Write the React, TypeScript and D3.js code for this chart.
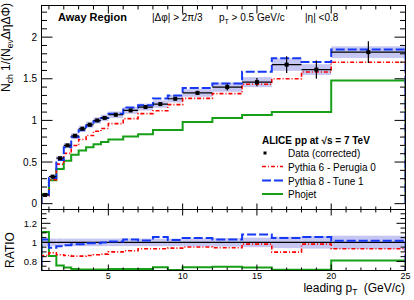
import React from "react";
import * as d3 from "d3";

// bins in leading pT (GeV/c)
const binEdges = [0.5, 1, 1.5, 2, 2.5, 3, 3.5, 4, 4.5, 5, 6, 7, 8, 9, 10, 12, 14, 16, 18, 20, 25];

// data (corrected)
const dataValues = [0.105, 0.325, 0.546, 0.7, 0.815, 0.9, 0.948, 1.0, 1.03, 1.068, 1.12, 1.16, 1.196, 1.26, 1.33, 1.4, 1.46, 1.67, 1.61, 1.82];
const dataStat = [0.004, 0.005, 0.006, 0.007, 0.008, 0.008, 0.009, 0.01, 0.01, 0.012, 0.013, 0.015, 0.017, 0.02, 0.025, 0.04, 0.05, 0.1, 0.11, 0.13];
const dataSys = [0.006, 0.015, 0.025, 0.03, 0.033, 0.035, 0.036, 0.037, 0.038, 0.039, 0.04, 0.042, 0.044, 0.045, 0.046, 0.055, 0.06, 0.075, 0.065, 0.07];

// models
const pythia6 = [0.091, 0.289, 0.475, 0.604, 0.698, 0.77, 0.818, 0.87, 0.903, 0.961, 1.021, 1.082, 1.116, 1.19, 1.265, 1.322, 1.434, 1.5, 1.581, 1.698];
const pythia8 = [0.108, 0.307, 0.524, 0.679, 0.799, 0.882, 0.939, 0.99, 1.03, 1.079, 1.154, 1.183, 1.263, 1.3, 1.39, 1.442, 1.583, 1.745, 1.7, 1.853];
const phojet = [0.117, 0.28, 0.415, 0.516, 0.587, 0.64, 0.679, 0.715, 0.74, 0.77, 0.806, 0.835, 0.885, 0.885, 0.98, 1.03, 1.065, 1.1, 1.1, 1.48];

// ratio panel (model / data)
const ratio6 = [0.863, 0.89, 0.87, 0.863, 0.856, 0.856, 0.863, 0.87, 0.877, 0.9, 0.912, 0.933, 0.933, 0.94, 0.951, 0.944, 0.982, 0.898, 0.982, 0.933];
const ratio8 = [1.03, 0.944, 0.96, 0.97, 0.98, 0.98, 0.99, 0.99, 1.0, 1.01, 1.03, 1.02, 1.056, 1.025, 1.045, 1.03, 1.084, 1.045, 1.056, 1.018];
const ratioPhojet = [1.11, 0.856, 0.758, 0.737, 0.72, 0.716, 0.716, 0.716, 0.716, 0.72, 0.72, 0.72, 0.74, 0.71, 0.74, 0.744, 0.737, 0.712, 0.712, 0.81];
const ratioBand = [0.04, 0.04, 0.04, 0.04, 0.04, 0.04, 0.04, 0.04, 0.04, 0.04, 0.04, 0.04, 0.04, 0.04, 0.042, 0.045, 0.05, 0.06, 0.065, 0.07];

const yMajor = [0, 0.5, 1, 1.5, 2];
const yLabels = ["0", "0.5", "1", "1.5", "2"];
const rMajor = [0.8, 1, 1.2];
const rLabels = ["0.8", "1", "1.2"];
const xLabels = [5, 10, 15, 20, 25];

const FONT = "Liberation Sans, Arial, Helvetica, sans-serif";
const RED = "#ff0000";
const BLUE = "#1438f5";
const GREEN = "#17a017";
const BAND = "#c6c6f2";

const left = 41.5;
const right = 405.5;
const topY = 5.5;
const midY = 209.5;
const botY = 270.5;

const x = d3.scaleLinear().domain([0.5, 25]).range([left, right]);
const y = d3.scaleLinear().domain([-0.07, 2.38]).range([midY, topY]);
const r = d3.scaleLinear().domain([0.705, 1.345]).range([botY, midY]);

function stepPath(vals: number[], ys: d3.ScaleLinear<number, number>, base: number) {
  const pts: [number, number][] = [[x(binEdges[0]), ys(base)]];
  vals.forEach((v, i) => {
    pts.push([x(binEdges[i]), ys(v)]);
    pts.push([x(binEdges[i + 1]), ys(v)]);
  });
  pts.push([x(binEdges[binEdges.length - 1]), ys(base)]);
  return d3.line()(pts) || "";
}

function Ticks() {
  const out: JSX.Element[] = [];
  // y ticks top panel
  d3.range(0, 2.35, 0.1).forEach((v, i) => {
    const major = Math.abs(v * 2 - Math.round(v * 2)) < 1e-6;
    const len = major ? 11 : 5.5;
    const yy = y(v);
    out.push(<line key={"yl" + i} x1={left} x2={left + len} y1={yy} y2={yy} />);
    out.push(<line key={"yr" + i} x1={right} x2={right - len} y1={yy} y2={yy} />);
  });
  // y ticks ratio panel
  d3.range(0.75, 1.33, 0.05).forEach((v, i) => {
    const major = rMajor.some((m) => Math.abs(m - v) < 1e-6);
    const len = major ? 9 : 5;
    const yy = r(v);
    out.push(<line key={"rl" + i} x1={left} x2={left + len} y1={yy} y2={yy} />);
    out.push(<line key={"rr" + i} x1={right} x2={right - len} y1={yy} y2={yy} />);
  });
  // x ticks
  d3.range(1, 25, 1).forEach((v) => {
    const major = v % 5 === 0;
    const xx = x(v);
    out.push(<line key={"xt" + v} x1={xx} x2={xx} y1={topY} y2={topY + (major ? 8 : 4)} />);
    out.push(<line key={"xm1" + v} x1={xx} x2={xx} y1={midY} y2={midY - (major ? 6 : 3)} />);
    out.push(<line key={"xm2" + v} x1={xx} x2={xx} y1={midY} y2={midY + (major ? 6 : 3)} />);
    out.push(<line key={"xb" + v} x1={xx} x2={xx} y1={botY} y2={botY - (major ? 6 : 3)} />);
  });
  return <g stroke="#000" strokeWidth={1}>{out}</g>;
}

export default function App() {
  const centers = dataValues.map((_, i) => (binEdges[i] + binEdges[i + 1]) / 2);
  return (
    <svg
      width={414}
      height={300}
      style={{ position: "absolute", left: 0, top: 0, background: "#fff" }}
      fontFamily={FONT}
    >
      <defs>
        <clipPath id="clipTop">
          <rect x={left} y={topY} width={right - left} height={midY - topY} />
        </clipPath>
        <clipPath id="clipRatio">
          <rect x={left} y={midY} width={right - left} height={botY - midY} />
        </clipPath>
      </defs>

      {/* top panel */}
      <g clipPath="url(#clipTop)">
        {dataValues.map((v, i) => (
          <rect
            key={"sys" + i}
            x={x(binEdges[i])}
            width={x(binEdges[i + 1]) - x(binEdges[i])}
            y={y(v + dataSys[i])}
            height={y(v - dataSys[i]) - y(v + dataSys[i])}
            fill={BAND}
          />
        ))}
        <path d={stepPath(phojet, y, 0)} fill="none" stroke={GREEN} strokeWidth={2} />
        <path d={stepPath(pythia6, y, 0)} fill="none" stroke={RED} strokeWidth={1.6} strokeDasharray="4,2,1,2" />
        <path d={stepPath(pythia8, y, 0)} fill="none" stroke={BLUE} strokeWidth={2} strokeDasharray="9,3" />
        {dataValues.map((v, i) => (
          <g key={"pt" + i} stroke="#000" strokeWidth={1.2}>
            <line x1={x(binEdges[i])} x2={x(binEdges[i + 1])} y1={y(v)} y2={y(v)} />
            <line x1={x(centers[i])} x2={x(centers[i])} y1={y(v - dataStat[i])} y2={y(v + dataStat[i])} />
            <rect x={x(centers[i]) - 2} y={y(v) - 2} width={4} height={4} fill="#000" stroke="none" />
          </g>
        ))}
      </g>

      {/* ratio panel */}
      <g clipPath="url(#clipRatio)">
        {ratioBand.map((b, i) => (
          <rect
            key={"rb" + i}
            x={x(binEdges[i])}
            width={x(binEdges[i + 1]) - x(binEdges[i])}
            y={r(1 + b)}
            height={r(1 - b) - r(1 + b)}
            fill={BAND}
          />
        ))}
        <line x1={left} x2={right} y1={r(1)} y2={r(1)} stroke="#000" strokeWidth={1.2} />
        <path d={stepPath(ratioPhojet, r, 0)} fill="none" stroke={GREEN} strokeWidth={2} />
        <path d={stepPath(ratio6, r, 0)} fill="none" stroke={RED} strokeWidth={1.6} strokeDasharray="4,2,1,2" />
        <path d={stepPath(ratio8, r, 0)} fill="none" stroke={BLUE} strokeWidth={2} strokeDasharray="9,3" />
      </g>

      {/* frames */}
      <rect x={left} y={topY} width={right - left} height={midY - topY} fill="none" stroke="#000" strokeWidth={1} />
      <rect x={left} y={midY} width={right - left} height={botY - midY} fill="none" stroke="#000" strokeWidth={1} />
      <Ticks />

      {/* y tick labels */}
      <g fontSize={10} textAnchor="end" fill="#000">
        {yMajor.map((v, i) => (
          <text key={"yt" + i} x={37} y={y(v) + 3.5}>
            {yLabels[i]}
          </text>
        ))}
        {rMajor.map((v, i) => (
          <text key={"rt" + i} x={37} y={r(v) + 3.5} fontSize={9.5}>
            {rLabels[i]}
          </text>
        ))}
      </g>
      {/* x tick labels */}
      <g fontSize={9} textAnchor="middle">
        {xLabels.map((v) => (
          <text key={"xl" + v} x={x(v)} y={278.5}>
            {v}
          </text>
        ))}
      </g>

      {/* axis titles */}
      <text transform="translate(10,3) rotate(-90)" textAnchor="end" fontSize={12}>
        N<tspan fontSize={8.5} dy={3}>ch</tspan>
        <tspan dy={-3}> 1/(N</tspan>
        <tspan fontSize={8.5} dy={3}>ev</tspan>
        <tspan dy={-3}>ΔηΔΦ)</tspan>
      </text>
      <text transform="translate(13.5,250) rotate(-90)" textAnchor="middle" fontSize={12}>
        RATIO
      </text>
      <text x={405} y={291.5} textAnchor="end" fontSize={12}>
        leading p<tspan fontSize={8.5} dy={3.5}>T</tspan>
        <tspan dy={-3.5} dx={3}> (GeV/c)</tspan>
      </text>

      {/* header */}
      <text x={58} y={21} fontSize={11} fontWeight="bold">
        Away Region
      </text>
      <text x={152} y={21} fontSize={10}>
        |Δφ| &gt; 2π/3
      </text>
      <text x={219} y={21} fontSize={10}>
        p<tspan fontSize={7} dy={2.5}>T</tspan>
        <tspan dy={-2.5}> &gt; 0.5 GeV/c</tspan>
      </text>
      <text x={305} y={21} fontSize={10}>
        |η| &lt;0.8
      </text>

      {/* legend */}
      <g fontSize={10}>
        <text x={262} y={143.5} fontWeight="bold">
          ALICE pp at  √s = 7 TeV
        </text>
        <rect x={263.5} y={151.5} width={3} height={3} fill="#000" />
        <text x={288} y={157}>Data (corrected)</text>
        <line x1={262} x2={283} y1={166.5} y2={166.5} stroke={RED} strokeWidth={1.6} strokeDasharray="4,2,1,2" />
        <text x={288} y={170.5}>Pythia 6 -  Perugia 0</text>
        <line x1={262} x2={283} y1={180.5} y2={180.5} stroke={BLUE} strokeWidth={2} strokeDasharray="9,3" />
        <text x={288} y={184.5}>Pythia 8 -  Tune 1</text>
        <line x1={262} x2={283} y1={194} y2={194} stroke={GREEN} strokeWidth={2} />
        <text x={288} y={198}>Phojet</text>
      </g>
    </svg>
  );
}
